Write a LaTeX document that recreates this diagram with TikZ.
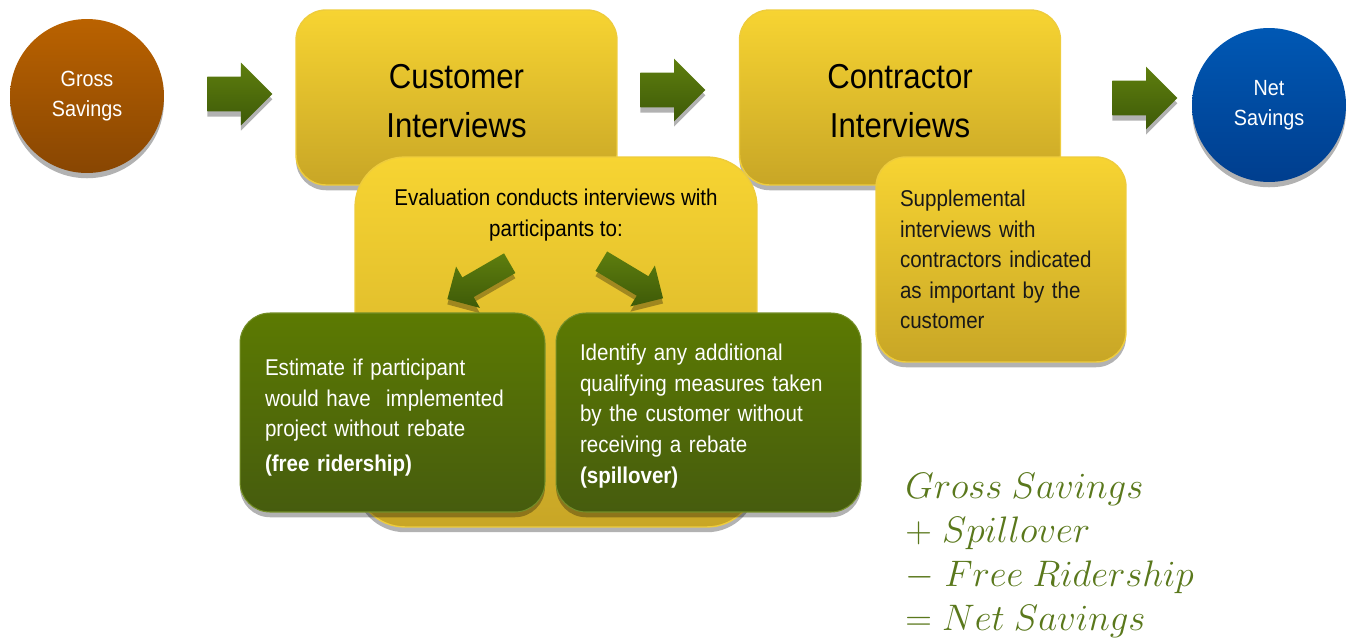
\RequirePackage{fix-cm}
\documentclass[tikz,border=0pt]{standalone}
\usepackage[no-math]{fontspec}
\setmainfont{Liberation Sans}[FakeStretch=0.9]
\usetikzlibrary{positioning,shapes.arrows,shadows}

\definecolor{ylwtop}{RGB}{247,212,50}
\definecolor{ylwbot}{RGB}{200,166,38}
\definecolor{ylwedge}{RGB}{238,204,60}
\definecolor{grntop}{RGB}{92,122,2}
\definecolor{grnbot}{RGB}{70,92,14}
\definecolor{arrtop}{RGB}{94,126,14}
\definecolor{arrbot}{RGB}{62,90,8}
\definecolor{brntop}{RGB}{186,98,0}
\definecolor{brnbot}{RGB}{136,70,2}
\definecolor{blutop}{RGB}{0,88,180}
\definecolor{blubot}{RGB}{0,62,142}
\definecolor{eqgreen}{RGB}{90,120,28}

\tikzset{
	softshadow/.style={drop shadow={shadow xshift=0pt, shadow yshift=-3pt, opacity=.3, fill=black}},
	ybox/.style={rectangle, rounded corners=0.6cm, top color=ylwtop, bottom color=ylwbot, draw=ylwedge, line width=0.8pt, softshadow, text=black!90},
	gbox/.style={rectangle, rounded corners=0.6cm, top color=grntop, bottom color=grnbot, draw=grntop!85!white, line width=0.6pt, softshadow},
	gtext/.style={text=white, align=left, inner sep=0pt, font=\fontsize{13}{17.4}\selectfont},
	titletext/.style={align=center, font=\fontsize{19.7}{27.5}\selectfont},
	bodytext/.style={font=\fontsize{13}{17.4}\selectfont},
	savecircle/.style={circle, minimum size=3.08cm, inner sep=0pt, text=white, align=center, softshadow, font=\fontsize{12.5}{17}\selectfont},
	bigarrow/.style={single arrow, anchor=tail, minimum height=1.3cm, inner sep=0.34cm, single arrow head extend=0.28cm, top color=arrtop, bottom color=arrbot, softshadow},
	smallarrow/.style={single arrow, anchor=tail, minimum height=1.44cm, inner sep=0.22cm, single arrow head extend=0.25cm, top color=arrtop, bottom color=arrbot, softshadow}
}

\begin{document}
\begin{tikzpicture}[x=0.02cm, y=-0.02cm]
	\useasboundingbox (0,0) rectangle (1348,639);

	% start and end of the chain
	\node[savecircle, top color=brntop, bottom color=brnbot] (gross) at (87,96) {Gross\\Savings};
	\node[savecircle, top color=blutop, bottom color=blubot] (net) at (1269,105) {Net\\Savings};

	% interview steps
	\node[ybox, titletext, minimum width=6.42cm, minimum height=3.5cm] (cust) at (456.5,97.5) {};
	\node[titletext] (custtxt) at (456.5,101) {Customer\\Interviews};
	\node[ybox, titletext, minimum width=6.42cm, minimum height=3.5cm] (contr) at (900,97.5) {};
	\node[titletext] (contrtxt) at (900,101) {Contractor\\Interviews};

	\node[bigarrow] (a1) at (207,94) {};
	\node[bigarrow] (a2) at (640,90) {};
	\node[bigarrow] (a3) at (1112,98) {};

	% details below the steps
	\node[ybox, rounded corners=1cm, minimum width=8.04cm, minimum height=7.4cm] (eval) at (556,342) {};
	\node[bodytext, align=center] (evaltxt) at (556,215) {Evaluation\ conducts interviews\ with\\participants to:};

	\node[ybox, bodytext, align=left, inner xsep=0.48cm, text width=4.04cm, minimum height=4.1cm] (supp) at (1001,259.5)
		{Supplemental\\interviews\ with\\contractors indicated\\as important\ by the\\customer};

	\node[smallarrow, rotate=210] (aleft) at (510,263) {};
	\node[smallarrow, rotate=-31] (aright) at (601,261) {};

	\node[gbox, minimum width=6.1cm, minimum height=3.98cm] (free) at (392.5,412.5) {};
	\node[gtext, text width=5.1cm] (freetxt) at (392.5,417.5)
		{Estimate if participant\\would have\ \ implemented\\project without rebate\\[2pt]\textbf{(free ridership)}};
	\node[gbox, minimum width=6.1cm, minimum height=3.98cm] (spill) at (708.5,412.5) {};
	\node[gtext, text width=5.14cm] (spilltxt) at (708.5,416)
		{Identify any additional\\qualifying\ measures\ taken\\by the customer\ without\\receiving\ a rebate\\\textbf{(spillover)}};

	% result
	\node[anchor=north west, align=left, inner sep=0pt, text=eqgreen, font=\fontsize{21}{25}\selectfont] (eq) at (905,473)
		{$Gross\ Savings$\\$+\;Spillover$\\$-\;Free\ Ridership$\\$=Net\ Savings$};
\end{tikzpicture}
\end{document}
